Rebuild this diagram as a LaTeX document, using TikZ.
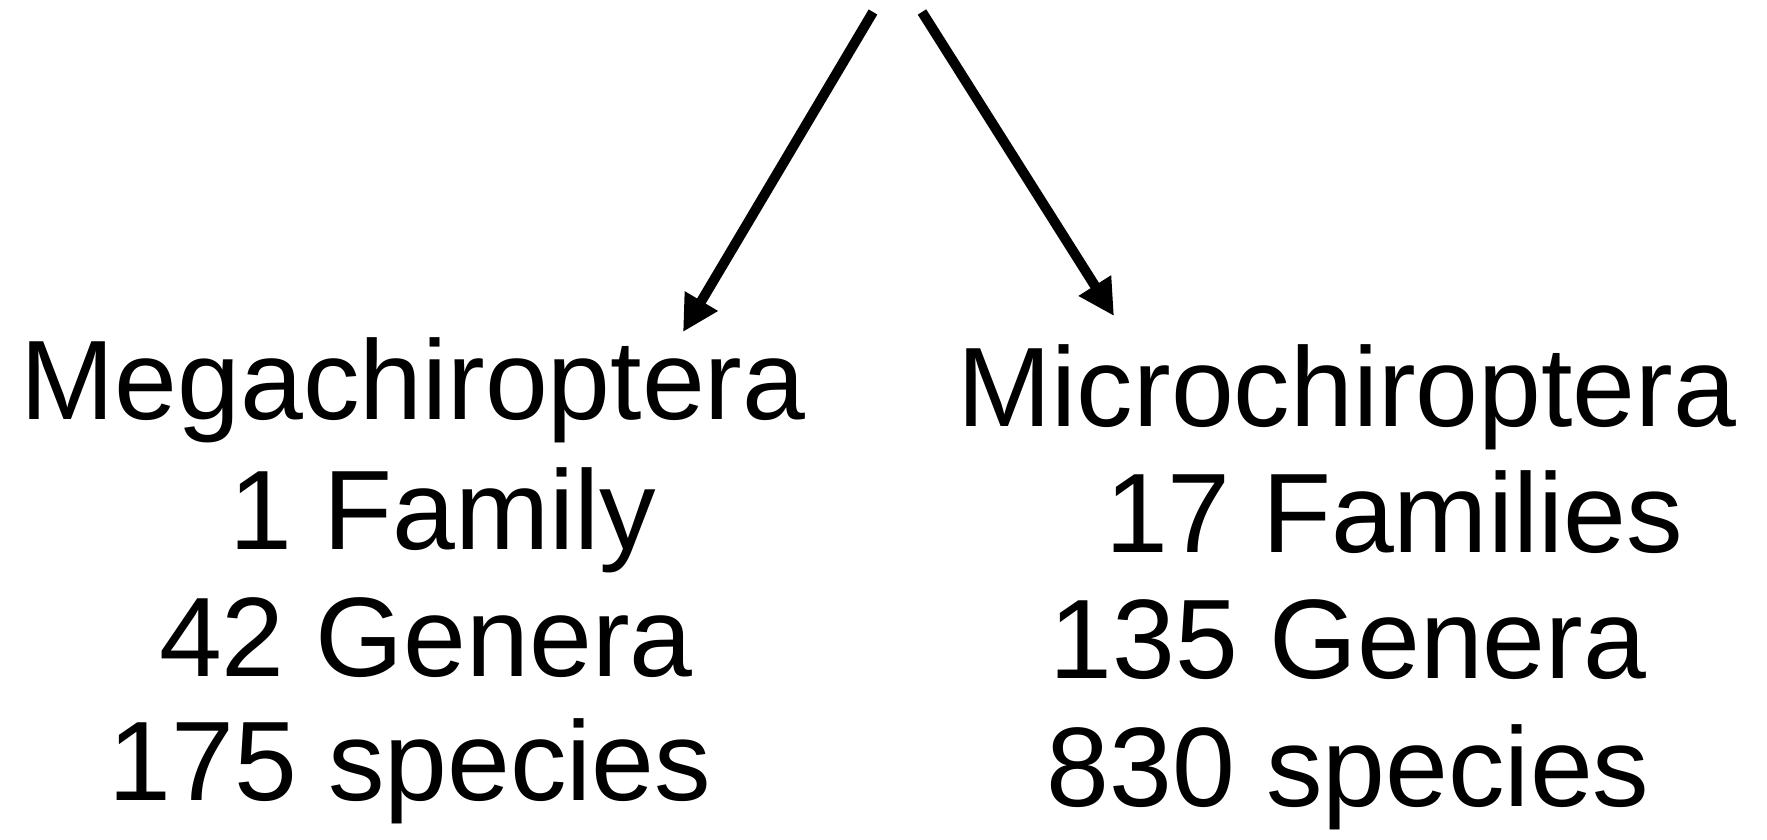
\documentclass[tikz,border=0pt]{standalone}
\usepackage{fontspec}
\setmainfont{Liberation Sans}
\usetikzlibrary{arrows.meta}
\begin{document}
\begin{tikzpicture}[x=1pt,y=1pt,
  lbl/.style={anchor=base,inner sep=0pt,font=\fontsize{113}{120}\selectfont},
  arr/.style={line width=10pt,-{Triangle[length=36pt,width=36pt]}}]
\useasboundingbox (0,0) rectangle (1767,-839);
\coordinate (s1) at (873,-12);
\coordinate (s2) at (922,-12);
\coordinate (t1) at (683,-332);
\coordinate (t2) at (1114,-316);
\draw[arr] (s1) -- (t1);
\draw[arr] (s2) -- (t2);
\node[lbl] (m1) at (413,-419) {Megachiroptera};
\node[lbl] (m2) at (443,-549) {1 Family};
\node[lbl] (m3) at (426,-676) {42 Genera};
\node[lbl] (m4) at (410,-800) {175 species};
\node[lbl] (n1) at (1347,-426) {Microchiroptera};
\node[lbl] (n2) at (1394,-552) {17 Families};
\node[lbl] (n3) at (1348,-678) {135 Genera};
\node[lbl] (n4) at (1348,-806) {830 species};
\end{tikzpicture}
\end{document}
